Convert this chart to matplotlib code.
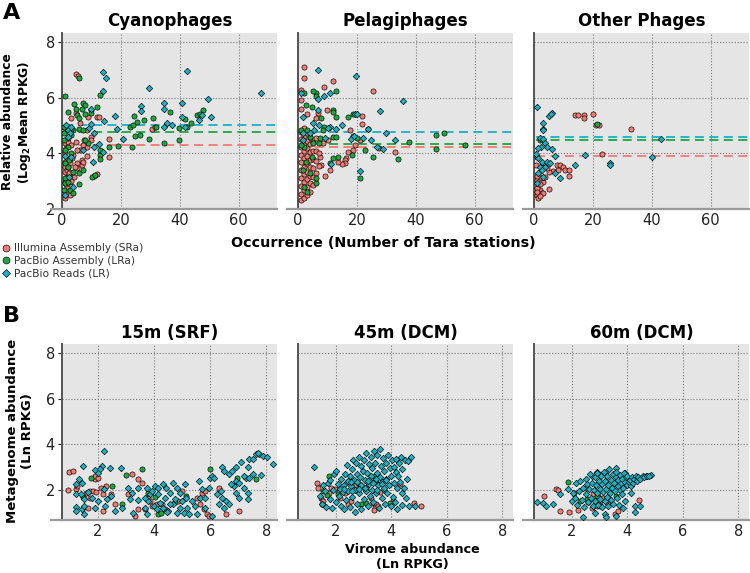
import matplotlib
matplotlib.use("Agg")
import matplotlib.pyplot as plt
from matplotlib.lines import Line2D

# ---------------- data: panel A (occurrence vs log2 mean RPKG) ----------------
cyano_sra_x = [4.9, 5.6, 15.8, 15.8, 11.9, 8.8, 4.9, 30.7, 31.6, 8.6, 9.7, 7.5, 8.4, 7.0, 6.1, 9.9,
               11.8, 10.8, 8.6, 6.9, 6.9, 7.2, 5.0, 5.0, 3.5, 1.8, 1.0, 1.0, 1.0, 1.6, 2.7, 3.1,
               4.1, 2.1, 1.0, 1.6, 1.0, 1.0, 2.7, 2.7, 0.7, 1.0, 2.1, 3.2, 4.7, 5.0, 1.9, 1.0,
               3.8, 6.1, 3.1, 1.5, 2.2, 3.0, 1.2, 2.5, 4.5, 1.3, 10.0, 12.5]
cyano_sra_y = [6.85, 6.78, 4.51, 3.88, 5.29, 5.29, 5.44, 4.89, 4.94, 4.82, 4.6, 4.48, 4.24, 4.3, 4.12, 4.46,
               3.26, 3.2, 3.9, 3.76, 3.58, 3.7, 3.64, 3.46, 3.82, 3.82, 3.7, 3.52, 3.34, 3.4, 3.64, 3.28,
               3.16, 3.19, 2.98, 2.8, 2.63, 2.39, 2.51, 2.98, 4.84, 4.36, 4.39, 4.3, 4.42, 4.12, 4.54, 4.06,
               3.94, 5.08, 5.26, 3.1, 3.5, 3.0, 2.9, 3.3, 3.5, 4.2, 5.55, 5.3]
cyano_lra_x = [0.9, 5.9, 12.8, 2.0, 4.0, 7.0, 7.9, 4.9, 6.8, 5.2, 5.9, 7.9, 9.8, 11.9, 24.6, 30.8,
               27.9, 25.6, 23.1, 24.0, 31.9, 36.6, 45.7, 43.7, 41.6, 42.5, 39.7, 24.7, 26.4, 29.6, 39.6, 34.7,
               23.7, 18.9, 15.8, 13.0, 13.0, 13.0, 8.9, 7.8, 5.9, 7.0, 3.8, 3.1, 2.9, 0.7, 0.8, 0.7,
               1.9, 1.0, 3.2, 1.0, 2.1, 3.8, 5.9, 10.3, 11.3, 7.2, 1.0, 1.0, 2.7, 0.8, 5.9, 2.1,
               3.6, 2.4, 48.0, 47.0]
cyano_lra_y = [6.07, 6.72, 6.1, 5.5, 5.77, 5.82, 5.74, 5.58, 5.58, 5.38, 5.28, 5.41, 5.44, 5.68, 5.35, 5.28,
               5.2, 5.14, 4.96, 5.0, 4.94, 5.47, 5.38, 5.08, 5.22, 4.94, 4.92, 4.62, 4.64, 4.53, 4.46, 4.36,
               4.24, 4.27, 4.24, 3.94, 3.79, 4.12, 4.36, 4.48, 4.88, 4.84, 4.84, 4.86, 4.66, 4.48, 4.72, 4.96,
               4.24, 4.12, 4.0, 3.64, 3.52, 3.34, 3.3, 3.16, 3.22, 3.4, 3.1, 2.92, 2.69, 2.69, 2.89, 2.98,
               2.57, 3.76, 5.55, 5.4]
cyano_lr_x = [13.8, 14.9, 13.8, 29.6, 42.6, 67.6, 49.6, 34.7, 34.7, 40.7, 26.7, 26.7, 18.0, 50.6, 46.4, 47.6,
              40.8, 35.7, 37.4, 41.7, 34.7, 18.8, 20.8, 14.1, 10.8, 9.9, 9.0, 2.1, 2.7, 2.1, 12.6, 11.0,
              14.0, 1.0, 2.9, 10.6, 3.8, 1.0, 7.2, 2.4, 9.7, 1.5, 3.2]
cyano_lr_y = [6.93, 6.72, 6.24, 6.34, 6.97, 6.18, 5.94, 5.82, 5.59, 5.8, 5.7, 5.53, 5.34, 5.3, 5.2, 5.39,
              5.3, 5.1, 5.03, 4.96, 4.94, 4.86, 4.53, 5.15, 4.74, 5.58, 4.9, 4.84, 4.72, 4.6, 4.34, 4.22,
              4.05, 3.9, 3.88, 3.67, 2.8, 2.52, 4.12, 3.16, 5.04, 5.0, 4.95]

pelagi_sra_x = [2.0, 2.0, 1.1, 1.1, 1.1, 2.9, 11.9, 8.9, 9.8, 25.6, 21.8, 21.8, 6.8, 6.2, 21.1, 27.4,
                32.8, 17.5, 19.2, 18.6, 16.9, 16.4, 15.8, 15.8, 15.0, 13.6, 9.0, 10.7, 7.9, 7.3, 8.5, 10.2,
                1, 1, 1, 1, 1, 1, 1, 1, 1, 1,
                2, 2, 2, 2, 2, 2, 2, 2, 2, 2,
                3, 3, 3, 3, 3, 3, 3, 3, 3,
                4, 4, 4, 4, 4, 4, 4, 4,
                5, 5, 5, 5, 5, 5, 6, 6, 6, 6, 7, 7]
pelagi_sra_y = [7.11, 6.72, 6.28, 5.92, 5.59, 5.41, 6.58, 6.37, 5.56, 6.22, 5.34, 5.06, 5.46, 5.26, 4.48, 4.18,
                4.06, 4.84, 4.3, 4.12, 4.03, 3.82, 3.76, 3.64, 3.61, 3.67, 3.2, 3.4, 3.58, 3.88, 4.36, 4.48,
                2.32, 2.55, 2.84, 3.12, 3.41, 3.7, 3.95, 4.22, 4.5, 4.78,
                2.41, 2.68, 2.97, 3.25, 3.52, 3.83, 4.08, 4.36, 4.63, 4.9,
                2.5, 2.8, 3.06, 3.33, 3.62, 3.91, 4.18, 4.45, 4.72,
                2.62, 2.93, 3.2, 3.5, 3.77, 4.05, 4.33, 4.6,
                2.85, 3.15, 3.47, 3.78, 4.07, 4.4, 3.3, 3.72, 4.1, 4.55, 3.55, 4.02]
pelagi_lra_x = [2.0, 2.8, 6.0, 6.0, 5.1, 4.9, 11.9, 11.9, 12.8, 12.8, 16.9, 18.8, 7.9, 8.8, 11.9, 12.8,
                18.8, 20.0, 22.7, 23.8, 25.6, 33.9, 37.8, 46.7, 46.7, 49.7, 56.6, 18.2, 20.9, 13.6, 10.7, 11.9,
                6.0, 6.0, 2.0, 1.1, 4.0, 5.1, 4.9, 1.7, 2.8, 4.0, 1.9, 3.1, 7.1, 8.5, 7.4, 1.0, 3.0]
pelagi_lra_y = [6.16, 5.74, 6.16, 6.04, 6.24, 5.68, 5.56, 5.5, 6.25, 5.32, 5.32, 5.42, 5.26, 4.96, 4.6, 4.57,
                4.63, 4.54, 4.12, 4.86, 3.86, 3.79, 4.42, 4.65, 4.15, 4.74, 4.3, 3.94, 3.1, 3.88, 3.64, 3.82,
                2.93, 3.1, 4.24, 4.84, 4.6, 4.36, 3.88, 3.4, 3.7, 3.28, 2.8, 4.84, 4.36, 4.84, 4.54, 4.3, 2.6]
pelagi_lr_x = [6.8, 19.8, 1.1, 6.8, 8.9, 11.0, 6.9, 27.7, 35.6, 19.2, 20.0, 14.8, 13.0, 10.7, 10.2, 23.8,
               30.0, 32.8, 24.9, 22.0, 17.9, 19.1, 28.8, 26.9, 20.9, 9.0, 7.1, 5.6, 4.0, 1.7, 1.7, 1.7,
               5.1, 11.3]
pelagi_lr_y = [6.99, 6.78, 6.16, 5.94, 6.06, 6.18, 5.56, 5.51, 5.88, 5.42, 5.42, 5.02, 4.86, 4.96, 4.9, 4.86,
               4.74, 4.46, 4.48, 4.54, 4.5, 4.63, 4.15, 4.21, 3.38, 4.54, 5.02, 4.84, 4.72, 4.72, 4.48, 5.32,
               5.08, 3.62]

other_sra_x = [14.0, 15.1, 17.0, 17.0, 20.0, 21.1, 22.2, 33.1, 23.1, 0.9, 7.7, 8.9, 9.8, 10.6, 12.0, 12.0,
               8.3, 6.6, 5.2, 3.9, 3.2, 0.9, 1.5, 2.0, 2.6, 0.9, 1.5, 3.2, 5.2, 2.0, 0.7, 4.3,
               1.0, 1.0, 2.0, 1.0, 2.0]
other_sra_y = [5.39, 5.39, 5.39, 5.26, 5.41, 5.02, 5.02, 4.89, 3.97, 3.88, 3.58, 3.58, 3.52, 3.4, 3.4, 3.2,
               3.4, 3.37, 3.34, 3.16, 2.98, 3.04, 2.87, 2.69, 2.59, 2.51, 2.39, 2.57, 2.71, 3.16, 3.58, 3.46,
               2.75, 2.62, 2.45, 3.2, 2.9]
other_lra_x = [21.4, 3.2, 2.0]
other_lra_y = [5.04, 3.52, 4.48]
other_lr_x = [1.1, 5.2, 6.1, 5.7, 3.2, 3.2, 3.2, 2.0, 3.0, 3.8, 2.3, 1.5, 4.3, 6.0, 7.2, 1.5,
              2.6, 4.3, 5.5, 2.0, 3.8, 7.2, 8.9, 14.0, 17.2, 25.9, 25.9, 40.1, 43.0, 1.5, 2.6, 0.9,
              3.2, 0.7]
other_lr_y = [5.65, 5.34, 5.46, 5.4, 5.08, 4.86, 4.82, 4.54, 4.5, 4.36, 4.24, 4.18, 4.24, 4.17, 3.92, 3.82,
              3.7, 3.7, 3.64, 3.52, 3.52, 3.31, 3.1, 3.58, 3.94, 3.64, 3.58, 3.86, 4.53, 3.28, 3.4, 2.93,
              3.16, 3.98]

# dashed mean lines (SRa, LRa, LR)
cyano_means = [4.3, 4.78, 5.03]
pelagi_means = [4.24, 4.33, 4.78]
other_means = [3.9, 4.48, 4.59]

# ---------------- data: panel B (virome vs metagenome, Ln RPKG) ----------------
srf_sra_x = [0.92, 0.98, 1.1, 1.22, 1.26, 1.58, 1.7, 1.82, 1.94, 1.46, 1.7, 1.88, 1.88, 2.12, 2.3, 2.18,
             2.48, 2.6, 2.18, 1.64, 2.0, 3.2, 3.56, 3.8, 3.68, 3.86, 3.92, 4.09, 4.27, 4.39, 3.44, 3.32,
             5.53, 5.65, 5.77, 5.89, 5.95, 5.71, 5.83, 6.31, 6.55, 7.03, 3.44, 3.08, 4.87, 4.99]
srf_sra_y = [2.0, 2.77, 2.84, 2.03, 2.15, 1.88, 1.96, 1.96, 1.91, 1.74, 1.66, 2.47, 2.62, 2.1, 2.18, 1.81,
             1.81, 1.37, 1.07, 1.22, 2.54, 2.69, 2.32, 1.66, 1.15, 1.51, 1.29, 1.4, 1.37, 1.15, 1.15, 0.85,
             1.66, 1.37, 1.15, 0.93, 0.85, 1.88, 1.96, 2.1, 0.93, 1.07, 2.47, 1.81, 1.51, 1.96]
srf_lra_x = [1.74, 1.46, 2.84, 3.0, 3.58, 2.51, 3.8, 4.15, 4.24, 4.02, 5.14, 4.75, 6.01, 7.63, 6.97]
srf_lra_y = [2.54, 1.69, 1.37, 2.65, 2.93, 2.15, 1.88, 0.93, 1.0, 1.69, 1.75, 1.49, 2.91, 2.47, 2.54]
srf_lr_x = [2.2, 1.46, 2.16, 2.44, 2.81, 1.88, 2.06, 2.0, 1.31, 1.43, 1.21, 1.21, 1.4, 1.64, 1.52, 1.21,
            1.21, 1.44, 1.52, 1.52, 1.88, 2.0, 2.22, 2.24, 2.34, 2.6, 3.08, 3.14, 3.44, 3.26, 3.68, 3.8,
            3.86, 3.92, 4.04, 4.15, 4.33, 4.42, 4.57, 4.69, 4.81, 4.93, 5.11, 5.14, 5.17, 5.35, 3.74, 3.98,
            4.09, 4.21, 4.33, 4.51, 4.69, 4.81, 4.93, 4.99, 4.75, 4.57, 4.39, 5.05, 5.23, 5.53, 5.65, 5.83,
            5.95, 6.01, 6.07, 6.15, 6.07, 5.83, 6.25, 6.43, 6.31, 6.49, 6.55, 6.37, 6.43, 6.49, 6.67, 6.79,
            6.85, 6.91, 7.03, 7.21, 7.27, 7.33, 7.09, 7.39, 7.51, 7.63, 7.75, 7.87, 8.04, 8.25, 7.69, 6.91,
            6.91, 6.73, 7.21, 7.39, 7.51, 7.81, 7.03, 7.33, 7.36, 6.67, 5.59, 5.71, 5.47, 3.44, 3.68, 3.2,
            2.84, 2.48, 4.45, 4.15, 3.74, 1.78]
srf_lr_y = [3.69, 3.03, 3.03, 2.97, 2.94, 2.87, 2.91, 2.72, 2.5, 2.29, 2.25, 1.81, 1.81, 1.91, 1.59, 1.26,
            1.07, 1.15, 0.96, 1.29, 1.22, 1.51, 2.03, 1.29, 1.59, 1.07, 2.1, 1.59, 1.54, 1.0, 1.22, 1.51,
            1.81, 1.96, 2.18, 2.1, 2.25, 2.1, 1.88, 2.32, 2.1, 1.88, 2.25, 1.66, 1.22, 1.51, 0.93, 1.29,
            1.15, 1.44, 1.22, 1.07, 1.37, 1.0, 1.22, 1.51, 1.59, 1.37, 1.66, 1.0, 0.93, 0.93, 1.66, 1.22,
            2.1, 2.54, 2.62, 2.54, 0.85, 1.66, 1.81, 1.66, 1.37, 1.22, 1.51, 1.96, 2.99, 2.84, 2.69, 2.84,
            2.18, 1.88, 1.66, 2.1, 2.54, 2.99, 3.21, 3.35, 3.35, 3.57, 3.57, 3.5, 3.44, 3.14, 3.64, 2.4,
            2.99, 2.25, 2.62, 2.54, 2.69, 2.65, 2.32, 1.88, 1.59, 1.37, 2.4, 2.03, 1.29, 2.1, 1.66, 1.88,
            1.22, 1.74, 1.03, 1.81, 2.1, 1.66]

dcm45_sra_x = [1.31, 1.37, 1.46, 1.55, 1.84, 1.96, 2.14, 2.32, 2.44, 2.56, 3.04, 3.28, 3.34, 3.46, 3.4, 3.38,
               3.52, 4.06, 4.3, 4.8, 5.08, 1.52, 1.76, 2.7, 3.6]
dcm45_sra_y = [2.29, 2.1, 1.66, 1.51, 2.1, 2.03, 1.66, 1.88, 1.37, 1.51, 2.1, 1.66, 1.44, 1.37, 1.22, 1.1,
               1.29, 1.51, 2.25, 1.41, 1.29, 1.37, 1.88, 2.2, 1.9]
dcm45_lra_x = [1.76, 1.55, 1.7, 2.08, 2.92, 3.1, 2.62, 3.4, 3.94, 3.1]
dcm45_lra_y = [2.62, 1.94, 1.78, 1.81, 1.37, 1.44, 2.4, 2.59, 1.44, 2.1]
dcm45_lr_x = [1.21, 1.42, 1.5, 1.55, 1.6, 1.65, 1.72, 1.78, 1.8, 1.85, 1.9, 1.95, 2.0, 2.02, 2.08, 2.1,
              2.15, 2.18, 2.2, 2.25, 2.3, 2.28, 2.32, 2.35, 2.4, 2.42, 2.45, 2.5, 2.5, 2.55, 2.58, 2.6,
              2.62, 2.65, 2.68, 2.7, 2.72, 2.75, 2.78, 2.8, 2.82, 2.85, 2.88, 2.9, 2.92, 2.95, 2.98, 3.0,
              3.02, 3.05, 3.08, 3.1, 3.12, 3.15, 3.18, 3.2, 3.22, 3.25, 3.28, 3.3, 3.32, 3.35, 3.38, 3.4,
              3.42, 3.45, 3.48, 3.5, 3.52, 3.55, 3.58, 3.6, 3.62, 3.65, 3.68, 3.7, 3.72, 3.75, 3.78, 3.8,
              3.82, 3.85, 3.88, 3.9, 3.95, 3.98, 4.0, 4.02, 4.05, 4.08, 4.1, 4.12, 4.15, 4.18, 4.2, 4.22,
              4.25, 4.28, 4.32, 4.35, 4.38, 4.4, 4.45, 4.5, 4.52, 4.55, 4.6, 4.65, 4.72, 4.85, 4.4,
              2.3, 2.45, 2.6, 2.75, 2.9, 3.05, 3.2, 3.35, 3.5, 3.65, 3.8, 2.55, 2.85, 3.15, 3.45, 3.75]
dcm45_lr_y = [2.99, 1.75, 1.4, 2.2, 1.95, 1.25, 2.3, 1.6, 2.45, 1.2, 2.0, 2.7, 2.85, 1.45, 2.25, 1.75,
              2.05, 1.3, 2.5, 1.9, 2.2, 1.15, 2.7, 1.55, 2.35, 3.1, 1.95, 2.6, 1.25, 2.15, 2.9, 1.7,
              3.3, 2.45, 1.05, 2.0, 3.2, 2.7, 1.4, 2.3, 3.45, 1.85, 2.55, 3.05, 1.15, 2.15, 2.85, 1.6,
              3.3, 2.45, 1.95, 3.6, 2.75, 1.3, 2.25, 3.15, 1.75, 2.6, 3.45, 2.0, 2.95, 1.45, 3.7, 2.4,
              3.2, 1.85, 2.75, 3.55, 2.2, 1.2, 3.8, 2.55, 3.05, 1.65, 2.35, 3.4, 2.0, 2.85, 1.4, 3.2,
              2.5, 1.85, 3.55, 2.2, 2.95, 1.3, 2.6, 3.3, 1.7, 2.3, 3.0, 1.45, 2.8, 3.35, 2.1, 1.15,
              2.6, 3.2, 2.35, 3.45, 1.85, 2.9, 2.1, 3.3, 1.65, 2.5, 3.25, 1.3, 3.43, 1.3, 1.35,
              2.05, 2.4, 1.95, 2.35, 2.2, 2.1, 2.45, 2.3, 2.0, 2.25, 2.45, 2.35, 2.05, 2.4, 2.5, 2.1]

dcm60_sra_x = [1.43, 1.51, 0.99, 1.59, 1.89, 2.23, 2.71, 2.89, 3.0, 3.12, 2.77, 2.95, 2.5, 3.54, 3.66, 4.41,
               2.6, 3.3]
dcm60_sra_y = [2.06, 2.0, 1.74, 1.07, 1.03, 1.12, 1.22, 1.29, 1.51, 1.66, 1.81, 1.74, 2.1, 0.93, 1.07, 1.54,
               1.45, 1.4]
dcm60_lra_x = [1.87, 2.07, 2.29, 2.53, 2.89, 3.0, 3.6]
dcm60_lra_y = [2.35, 1.88, 1.51, 1.59, 1.74, 1.29, 1.74]
dcm60_lr_x = [0.76, 0.95, 1.07, 1.31, 1.59, 1.87, 2.05, 2.02, 2.41, 2.89, 2.71, 3.22, 3.6, 3.9, 4.86, 4.68,
              4.5, 4.32, 4.14, 4.26, 4.44, 4.26, 3.18, 3.24, 3.6, 2.83, 3.84,
              2.1, 2.15, 2.2, 2.25, 2.3, 2.35, 2.4, 2.45, 2.5, 2.52, 2.55, 2.6, 2.62, 2.65, 2.7, 2.72,
              2.75, 2.8, 2.82, 2.85, 2.88, 2.9, 2.92, 2.95, 2.98, 3.0, 3.02, 3.05, 3.08, 3.1, 3.12, 3.15,
              3.18, 3.2, 3.22, 3.25, 3.28, 3.3, 3.32, 3.35, 3.38, 3.4, 3.42, 3.45, 3.48, 3.5, 3.52, 3.55,
              3.58, 3.6, 3.62, 3.65, 3.68, 3.7, 3.72, 3.75, 3.78, 3.8, 3.82, 3.85, 3.88, 3.9, 3.92, 3.95,
              3.98, 4.0, 4.05, 4.1, 4.12, 4.15, 4.2, 4.25, 4.3, 4.35, 4.4, 4.45, 4.55, 4.6, 4.7, 4.78]
dcm60_lr_y = [1.47, 1.41, 1.29, 1.37, 1.81, 2.03, 1.88, 1.51, 0.82, 2.79, 2.59, 2.79, 2.94, 2.72, 2.65, 2.59,
              2.54, 2.44, 1.88, 1.29, 1.29, 1.03, 0.96, 0.82, 0.85, 1.0, 1.19,
              1.65, 2.3, 1.35, 1.95, 2.4, 1.55, 2.1, 1.25, 2.5, 1.8, 2.25, 1.45, 2.05, 2.7, 1.65, 2.3,
              1.3, 2.0, 2.55, 1.5, 2.2, 1.85, 2.75, 1.35, 2.4, 2.05, 1.6, 2.6, 1.25, 2.25, 1.9, 2.8,
              1.5, 2.4, 2.05, 1.7, 2.6, 1.3, 2.2, 2.9, 1.85, 2.45, 1.55, 2.1, 2.7, 1.4, 2.3, 1.95,
              2.55, 2.8, 1.65, 2.15, 2.45, 1.35, 2.0, 2.65, 2.3, 1.8, 2.5, 2.1, 2.75, 2.35, 1.5, 2.55,
              2.2, 2.6, 2.35, 2.45, 2.15, 2.55, 2.3, 2.5, 2.6, 2.4, 2.55, 2.5, 2.6, 2.55, 2.62, 2.63]

labels = ["Illumina Assembly (SRa)", "PacBio Assembly (LRa)", "PacBio Reads (LR)"]
colors = ["#f47a72", "#17ab3d", "#14b3c5"]
markers = ["o", "o", "D"]

fig = plt.figure(figsize=(7.5, 5.73), dpi=100)
W, H = 750.0, 573.0


def make_ax(x0, x1, ytop, ybot):
    return fig.add_axes([x0 / W, 1 - ybot / H, (x1 - x0) / W, (ybot - ytop) / H])


def style(ax, xlim, ylim, xticks, yticks, show_y):
    ax.set_facecolor("#e5e5e5")
    ax.set_xlim(xlim)
    ax.set_ylim(ylim)
    ax.set_xticks(xticks)
    ax.set_yticks(yticks)
    ax.grid(True, linestyle=":", color="#7a7a7a", linewidth=0.8)
    ax.set_axisbelow(True)
    for s in ["top", "right"]:
        ax.spines[s].set_visible(False)
    ax.spines["left"].set_color("#555555")
    ax.spines["left"].set_linewidth(1.4)
    ax.spines["bottom"].set_color("#9a9a9a")
    ax.spines["bottom"].set_linewidth(1.6)
    ax.plot([-0.05, 0], [0, 0], transform=ax.transAxes, color="#9a9a9a", lw=1.6, clip_on=False)
    ax.tick_params(axis="x", length=0, labelsize=10.5, colors="#222222", pad=3)
    ax.tick_params(axis="y", length=3, labelsize=10.5, colors="#222222", pad=2)
    if not show_y:
        ax.tick_params(axis="y", length=0, labelleft=False)


def scatter3(ax, series):
    for (xs, ys), c, m in zip(series, colors, markers):
        s = 11 if m == "D" else 14
        ax.scatter(xs, ys, s=s, c=c, marker=m, edgecolors="black", linewidths=0.45, zorder=3)


# ---------------- panel A ----------------
panelA = [
    ("Cyanophages", [(cyano_sra_x, cyano_sra_y), (cyano_lra_x, cyano_lra_y), (cyano_lr_x, cyano_lr_y)], cyano_means),
    ("Pelagiphages", [(pelagi_sra_x, pelagi_sra_y), (pelagi_lra_x, pelagi_lra_y), (pelagi_lr_x, pelagi_lr_y)], pelagi_means),
    ("Other Phages", [(other_sra_x, other_sra_y), (other_lra_x, other_lra_y), (other_lr_x, other_lr_y)], other_means),
]
lefts = [(62, 277), (298, 513), (534, 749)]
for i, (title, series, means) in enumerate(panelA):
    ax = make_ax(lefts[i][0], lefts[i][1], 33, 209)
    style(ax, (0, 73), (2, 8.32), [0, 20, 40, 60], [2, 4, 6, 8], i == 0)
    ax.set_title(title, fontsize=12, fontweight="bold", pad=5)
    scatter3(ax, series)
    for m, c in zip(means, colors):
        ax.axhline(m, xmin=0.01, color=c, linestyle=(0, (5, 3)), linewidth=1.3, zorder=2)

# ---------------- panel B ----------------
panelB = [
    ("15m (SRF)", [(srf_sra_x, srf_sra_y), (srf_lra_x, srf_lra_y), (srf_lr_x, srf_lr_y)], 0.72),
    ("45m (DCM)", [(dcm45_sra_x, dcm45_sra_y), (dcm45_lra_x, dcm45_lra_y), (dcm45_lr_x, dcm45_lr_y)], 0.64),
    ("60m (DCM)", [(dcm60_sra_x, dcm60_sra_y), (dcm60_lra_x, dcm60_lra_y), (dcm60_lr_x, dcm60_lr_y)], 0.64),
]
for i, (title, series, x0) in enumerate(panelB):
    ax = make_ax(lefts[i][0], lefts[i][1], 344, 520)
    style(ax, (x0, 8.38), (0.68, 8.4), [2, 4, 6, 8], [2, 4, 6, 8], i == 0)
    ax.set_title(title, fontsize=12, fontweight="bold", pad=4)
    scatter3(ax, series)

# ---------------- labels / legend ----------------
fig.text(3 / W, 1 - 3 / H, "A", fontsize=16, fontweight="bold", va="top", ha="left")
fig.text(3 / W, 1 - 306 / H, "B", fontsize=16, fontweight="bold", va="top", ha="left")
fig.text(17 / W, 1 - 122 / H, "Relative abundance\n(Log$_\\mathbf{2}$Mean RPKG)", rotation=90,
         fontsize=8.8, fontweight="bold", ha="center", va="center", multialignment="center")
fig.text(383 / W, 1 - 243 / H, "Occurrence (Number of Tara stations)", fontsize=10.3,
         fontweight="bold", ha="center", va="center")
fig.text(20 / W, 1 - 431 / H, "Metagenome abundance\n(Ln RPKG)", rotation=90,
         fontsize=9.5, fontweight="bold", ha="center", va="center", multialignment="center")
fig.text(412 / W, 1 - 557 / H, "Virome abundance\n(Ln RPKG)", fontsize=9.2,
         fontweight="bold", ha="center", va="center", multialignment="center")

handles = [Line2D([], [], linestyle="none", marker=m, markersize=5 if m == "o" else 4.5,
                  markerfacecolor=c, markeredgecolor="black", markeredgewidth=0.45)
           for c, m in zip(colors, markers)]
leg = fig.legend(handles, labels, loc="upper left", bbox_to_anchor=(-0.006, 1 - 239 / H),
                 frameon=False, fontsize=7.7, handletextpad=0.1, labelspacing=0.25,
                 handlelength=1.2, borderaxespad=0)
for t in leg.get_texts():
    t.set_color("#333333")

fig.savefig("out.png", dpi=100)
